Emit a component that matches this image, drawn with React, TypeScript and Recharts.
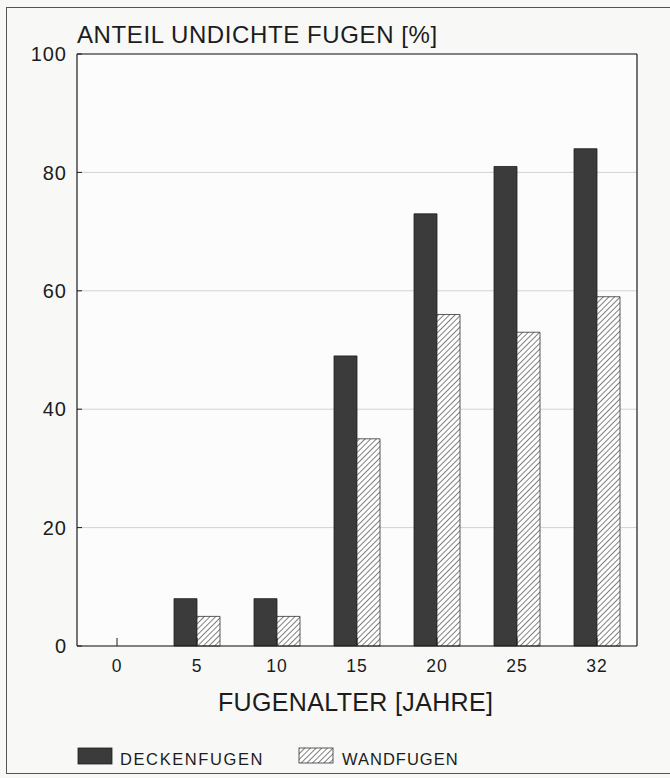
import { BarChart, Bar, XAxis, YAxis, CartesianGrid } from 'recharts';

// Fugenalter in Jahren
const ages = ['0', '5', '10', '15', '20', '25', '32'];
// Anteil undichte Fugen [%]
const deckenfugen = [0, 8, 8, 49, 73, 81, 84];
const wandfugen = [0, 5, 5, 35, 56, 53, 59];
const yTicks = [0, 20, 40, 60, 80, 100];

const data = ages.map((age, i) => ({ age, decke: deckenfugen[i], wand: wandfugen[i] }));

const FONT = '"Liberation Sans", Arial, Helvetica, sans-serif';
const INK = '#1c1c1c';
const DARK = '#3b3b3b';
const PAPER = '#f8f8f7';

export default function App() {
  return (
    <div style={{ position: 'absolute', left: 0, top: 0, width: 670, height: 778, overflow: 'hidden', background: PAPER, fontFamily: FONT }}>
      {/* shared hatch pattern */}
      <svg width={0} height={0} style={{ position: 'absolute' }}>
        <defs>
          <pattern id="hatch" patternUnits="userSpaceOnUse" width={4} height={4} patternTransform="rotate(45)">
            <rect width={4} height={4} fill="#ffffff" />
            <line x1={0} y1={0} x2={0} y2={4} stroke="#3a3a3a" strokeWidth={1.3} />
          </pattern>
        </defs>
      </svg>

      {/* outer frame, right edge runs off the page */}
      <div style={{ position: 'absolute', left: 6, top: 7, width: 700, height: 767, border: '1.5px solid #555', boxSizing: 'border-box' }} />

      <div style={{ position: 'absolute', left: 0, top: 0 }}>
        <BarChart width={670} height={778} data={data} margin={{ top: 53, right: 32, left: 76, bottom: 131 }} barSize={23} barGap={0}>
          <CartesianGrid vertical={false} stroke="#d2d2d2" fill="#fcfcfc" />
          <XAxis
            dataKey="age"
            height={1}
            axisLine={{ stroke: INK, strokeWidth: 1.2 }}
            tickLine={{ stroke: INK, strokeWidth: 1 }}
            tickSize={-8}
            tickMargin={22}
            interval={0}
            tick={{ fill: INK, fontSize: 17.5, fontFamily: FONT, letterSpacing: 1 }}
          />
          <XAxis xAxisId="top" dataKey="age" orientation="top" height={1} tick={false} tickLine={false} axisLine={{ stroke: INK, strokeWidth: 1.2 }} />
          <YAxis
            type="number"
            domain={[0, 100]}
            ticks={yTicks}
            width={1}
            axisLine={{ stroke: INK, strokeWidth: 1.2 }}
            tickLine={{ stroke: INK, strokeWidth: 1 }}
            tickSize={-5}
            tickMargin={15}
            tick={{ fill: INK, fontSize: 20, fontFamily: FONT, letterSpacing: 1 }}
          />
          <YAxis yAxisId="right" orientation="right" width={1} domain={[0, 100]} tick={false} tickLine={false} axisLine={{ stroke: INK, strokeWidth: 1.2 }} />
          <Bar dataKey="decke" name="DECKENFUGEN" fill={DARK} stroke="#1e1e1e" strokeWidth={0.8} label={false} isAnimationActive={false} />
          <Bar dataKey="wand" name="WANDFUGEN" fill="url(#hatch)" stroke="#333" strokeWidth={0.8} label={false} isAnimationActive={false} />
        </BarChart>
      </div>

      {/* titles and legend */}
      <svg width={670} height={778} style={{ position: 'absolute', left: 0, top: 0, pointerEvents: 'none' }} fontFamily={FONT}>
        <text x={77} y={43} fontSize={24} letterSpacing={0.6} fill={INK}>ANTEIL UNDICHTE FUGEN [%]</text>
        <text x={218} y={711} fontSize={25} letterSpacing={0.35} fill={INK}>FUGENALTER [JAHRE]</text>
        <rect x={78} y={748} width={34} height={16} fill={DARK} stroke="#1e1e1e" strokeWidth={0.8} />
        <text x={120} y={765} fontSize={16.5} letterSpacing={1.6} fill={INK}>DECKENFUGEN</text>
        <rect x={299} y={748} width={34} height={15} fill="url(#hatch)" stroke="#333" strokeWidth={0.8} />
        <text x={342} y={765} fontSize={16.5} letterSpacing={1} fill={INK}>WANDFUGEN</text>
      </svg>
    </div>
  );
}
